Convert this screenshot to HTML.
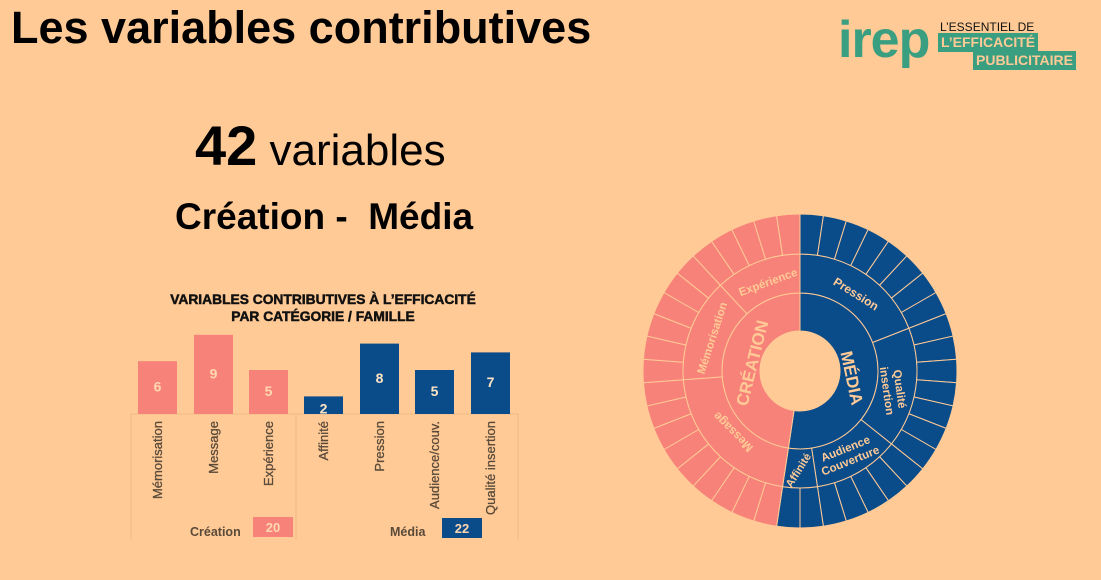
<!DOCTYPE html>
<html><head><meta charset="utf-8">
<style>
body{margin:0;width:1101px;height:580px;background:#FFCA95;overflow:hidden;position:relative;font-family:"Liberation Sans",sans-serif}
.a{position:absolute;white-space:nowrap}
</style></head><body>
<div class="a" style="left:11px;top:2px;font-size:45px;font-weight:bold;color:#000">Les variables contributives</div>
<div class="a" style="left:195px;top:113px;font-size:44px;color:#000"><b style="font-size:56px">42</b> variables</div>
<div class="a" style="left:175px;top:196px;font-size:37px;font-weight:bold;color:#000">Création -&nbsp; Média</div>
<!-- logo -->
<div class="a" style="left:838px;top:10px;font-size:52px;color:#3A9E80;font-weight:bold;letter-spacing:-1px">irep</div>
<div class="a" style="left:940px;top:20px;font-size:12px;color:#111">L’ESSENTIEL DE</div>
<div class="a" style="left:938px;top:33px;background:#3A9E80;color:#FFCA95;font-weight:bold;font-size:14px;padding:1px 3px;line-height:17px">L’EFFICACITÉ</div>
<div class="a" style="left:973px;top:51px;background:#3A9E80;color:#FFCA95;font-weight:bold;font-size:14px;padding:1px 3px;line-height:17px">PUBLICITAIRE</div>

<svg class="a" style="left:0;top:0" width="1101" height="580" id="s">
<g font-family="Liberation Sans" font-weight="bold" stroke="#111" stroke-width="0.5">
<text x="323" y="304" font-size="13.8" text-anchor="middle" fill="#111">VARIABLES CONTRIBUTIVES À L’EFFICACITÉ</text>
<text x="323" y="321" font-size="13.8" text-anchor="middle" fill="#111">PAR CATÉGORIE / FAMILLE</text>
</g>
<g stroke="#F2BA86" stroke-width="1" fill="none">
<line x1="130" y1="414" x2="519" y2="414"/>
<line x1="131" y1="414" x2="131" y2="540"/>
<line x1="296" y1="414" x2="296" y2="540"/>
<line x1="518" y1="414" x2="518" y2="540"/>
</g>
<g id="bars"></g>
<g font-family="Liberation Sans" font-weight="bold" font-size="12.5" fill="#5a4a3a">
<text x="190" y="536">Création</text>
<text x="390" y="536">Média</text>
</g>
<rect x="253" y="517" width="40" height="20" fill="#F7827A"/>
<text x="273" y="532" font-size="13" font-weight="bold" fill="#FFD8B0" text-anchor="middle" font-family="Liberation Sans">20</text>
<rect x="442" y="518" width="40" height="20" fill="#0A4B8A"/>
<text x="462" y="533" font-size="13" font-weight="bold" fill="#FFD8B0" text-anchor="middle" font-family="Liberation Sans">22</text>
<g id="sun"></g>
<g font-family="Liberation Sans" font-weight="bold" fill="#FFCA95">
<text transform="translate(752,363) rotate(-76)" font-size="17" text-anchor="middle" dy="6">CRÉATION</text>
<text transform="translate(852,378) rotate(78)" font-size="17" text-anchor="middle" dy="6">MÉDIA</text>
<text transform="translate(856,294) rotate(32)" font-size="12" text-anchor="middle" dy="4">Pression</text>
<text transform="translate(893,390) rotate(82)" font-size="11.5" text-anchor="middle" dy="-3">Qualité</text>
<text transform="translate(893,390) rotate(82)" font-size="11.5" text-anchor="middle" dy="10">insertion</text>
<text transform="translate(848,455) rotate(-22)" font-size="11.5" text-anchor="middle" dy="-3">Audience</text>
<text transform="translate(848,455) rotate(-22)" font-size="11.5" text-anchor="middle" dy="10">Couverture</text>
<text transform="translate(798,470) rotate(-58)" font-size="11" text-anchor="middle" dy="4">Affinité</text>
<text transform="translate(733,432) rotate(225)" font-size="12" text-anchor="middle" dy="4">Message</text>
<text transform="translate(712,338) rotate(-72)" font-size="11.5" text-anchor="middle" dy="4">Mémorisation</text>
<text transform="translate(768,282) rotate(-20)" font-size="11.5" text-anchor="middle" dy="4">Expérience</text>
</g>
</svg>
<script>
var NS="http://www.w3.org/2000/svg";
function el(t,a,p){var e=document.createElementNS(NS,t);for(var k in a)e.setAttribute(k,a[k]);p.appendChild(e);return e;}
var bars=document.getElementById("bars");
var data=[["Mémorisation",6,138,"#F7827A","#FFD8B0"],["Message",9,194,"#F7827A","#FFD8B0"],["Expérience",5,249,"#F7827A","#FFD8B0"],["Affinité",2,304,"#0A4B8A","#FFE4C4"],["Pression",8,360,"#0A4B8A","#FFE4C4"],["Audience/couv.",5,415,"#0A4B8A","#FFE4C4"],["Qualité insertion",7,471,"#0A4B8A","#FFE4C4"]];
data.forEach(function(d){var h=d[1]*8.8;el("rect",{x:d[2],y:414-h,width:39,height:h,fill:d[3]},bars);
var t=el("text",{x:d[2]+19.5,y:414-h+(h>40?h*0.5:h*0.75)+4,"text-anchor":"middle","font-size":14,"font-weight":"bold",fill:d[4],"font-family":"Liberation Sans"},bars);t.textContent=d[1];
var l=el("text",{transform:"translate("+(d[2]+24)+",421) rotate(-90)","text-anchor":"end","font-size":13,fill:"#5a4a3a","font-family":"Liberation Sans",stroke:"#5a4a3a","stroke-width":0.3},bars);l.textContent=d[0];});
var s=document.getElementById("sun"),cx=800,cy=371;
function pt(r,a){a=(a-90)*Math.PI/180;return [cx+r*Math.cos(a),cy+r*Math.sin(a)];}
function arc(r0,r1,a0,a1,f){var p=pt(r1,a0),q=pt(r1,a1),u=pt(r0,a1),v=pt(r0,a0),lg=(a1-a0)>180?1:0;
el("path",{d:"M"+p+"A"+r1+","+r1+" 0 "+lg+" 1 "+q+"L"+u+"A"+r0+","+r0+" 0 "+lg+" 0 "+v+"Z",fill:f,stroke:"#FFCA95","stroke-width":1},s);}
var u=360/42,P="#F7827A",B="#0A4B8A";
arc(40,78,0,22*u,B);arc(40,78,22*u,360,P);
var fam=[[8,B],[7,B],[5,B],[2,B],[9,P],[6,P],[5,P]],a=0;
fam.forEach(function(f){arc(78,117,a,a+f[0]*u,f[1]);a+=f[0]*u;});
for(var i=0;i<42;i++)arc(117,157,i*u,(i+1)*u,i<22?B:P);
</script>
</body></html>
